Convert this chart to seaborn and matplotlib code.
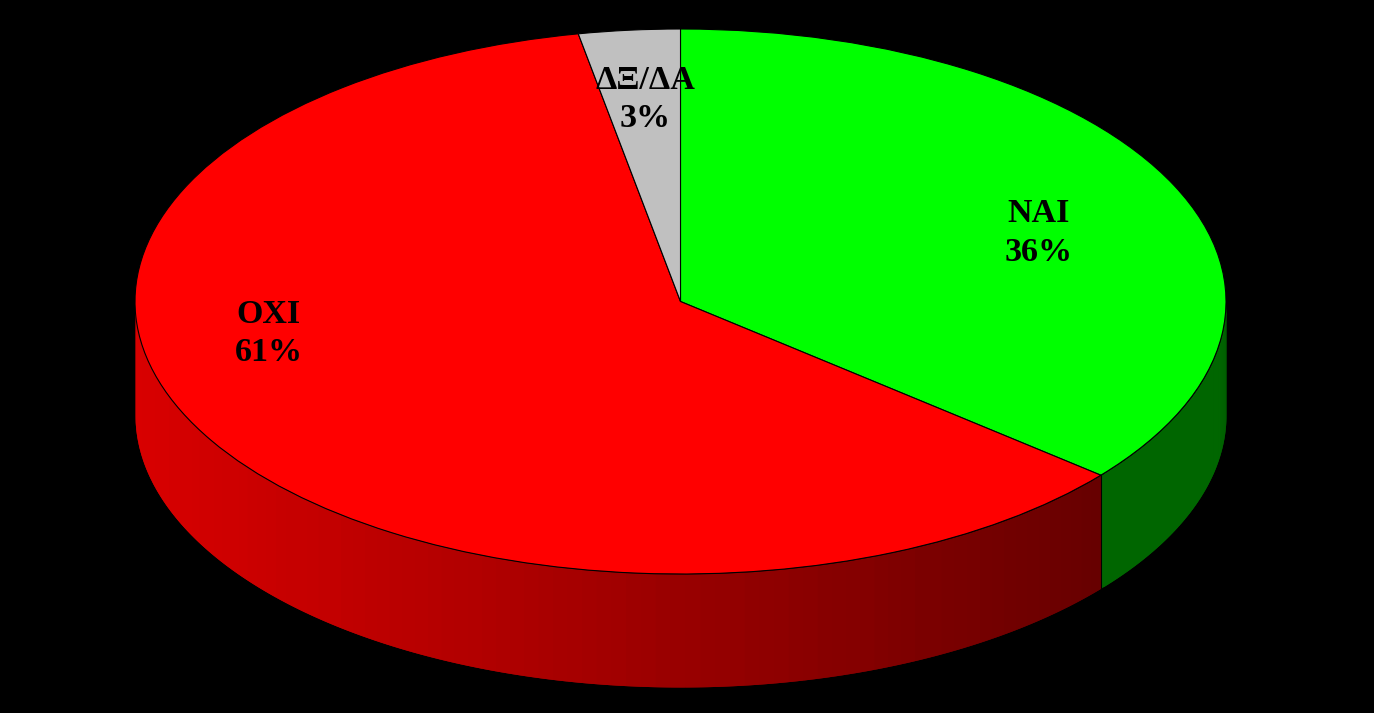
import numpy as np
import matplotlib
matplotlib.use("Agg")
import matplotlib.pyplot as plt
import seaborn as sns

labels = ["NAI", "OXI", "ΔΞ/ΔΑ"]
shares = [36, 61, 3]
top_colors = ["#00ff00", "#ff0000", "#c0c0c0"]
side_shades = {"NAI": ["#006600", "#006600"], "OXI": ["#d80000", "#660000"], "ΔΞ/ΔΑ": ["#808080", "#808080"]}

W, H = 1374, 713
CX, CY, RX, RY, DEPTH = 680.5, 301.5, 545.5, 272.5, 113

sns.set_theme(style="white")
plt.rcParams["font.family"] = ["Liberation Serif", "DejaVu Serif"]

fig = plt.figure(figsize=(W / 100, H / 100), dpi=100, facecolor="black")
ax = fig.add_axes([0, 0, 1, 1], facecolor="black")

depth = DEPTH / RY

# Side wall: strips below the visible front rim, shaded by horizontal position.
# Each strip overlaps the one before it so no seams show.
edges = np.concatenate([[0], np.cumsum(shares)]) / sum(shares) * 2 * np.pi
for i, name in enumerate(labels):
    a0, a1 = edges[i], edges[i + 1]
    # clockwise from 12 o'clock; only the lower half of the ellipse is visible
    lo, hi = max(a0, np.pi / 2), min(a1, 3 * np.pi / 2)
    if hi <= lo:
        continue
    n = 90
    pal = sns.blend_palette(side_shades[name], n)
    cuts = np.linspace(lo, hi, n + 1)
    xmid = np.sin((cuts[:-1] + cuts[1:]) / 2)
    xleft, xright = xmid.min(), xmid.max()
    for j in range(n):
        t = np.linspace(cuts[max(j - 1, 0)], cuts[j + 1], 8)
        x, y = np.sin(t), np.cos(t)
        colour = pal[int(round((xmid[j] - xleft) / (xright - xleft) * (n - 1)))]
        ax.fill_between(x, y, y - depth, color=colour, lw=0, zorder=1)
    if name == "OXI":
        x = np.sin(lo)
        ax.plot([x, x], [np.cos(lo), np.cos(lo) - depth], color="black", lw=0.8, zorder=2)

wedges, _ = ax.pie(
    shares, colors=top_colors, startangle=90, counterclock=False, radius=1,
    wedgeprops=dict(edgecolor="black", linewidth=0.8, zorder=3),
)
ax.set_aspect("auto")
ax.set_xlim(-CX / RX, (W - CX) / RX)
ax.set_ylim(-(H - CY) / RY, CY / RY)
ax.axis("off")

label_pos = {"NAI": (0.657, 0.251), "OXI": (-0.755, -0.118), "ΔΞ/ΔΑ": (-0.064, 0.741)}
for name, share in zip(labels, shares):
    x, y = label_pos[name]
    ax.text(x, y, f"{name}\n{share}%", ha="center", va="center", color="black",
            fontsize=24.5, fontweight="bold", linespacing=1.32, zorder=5)

fig.savefig("out.png", dpi=100, facecolor="black")
